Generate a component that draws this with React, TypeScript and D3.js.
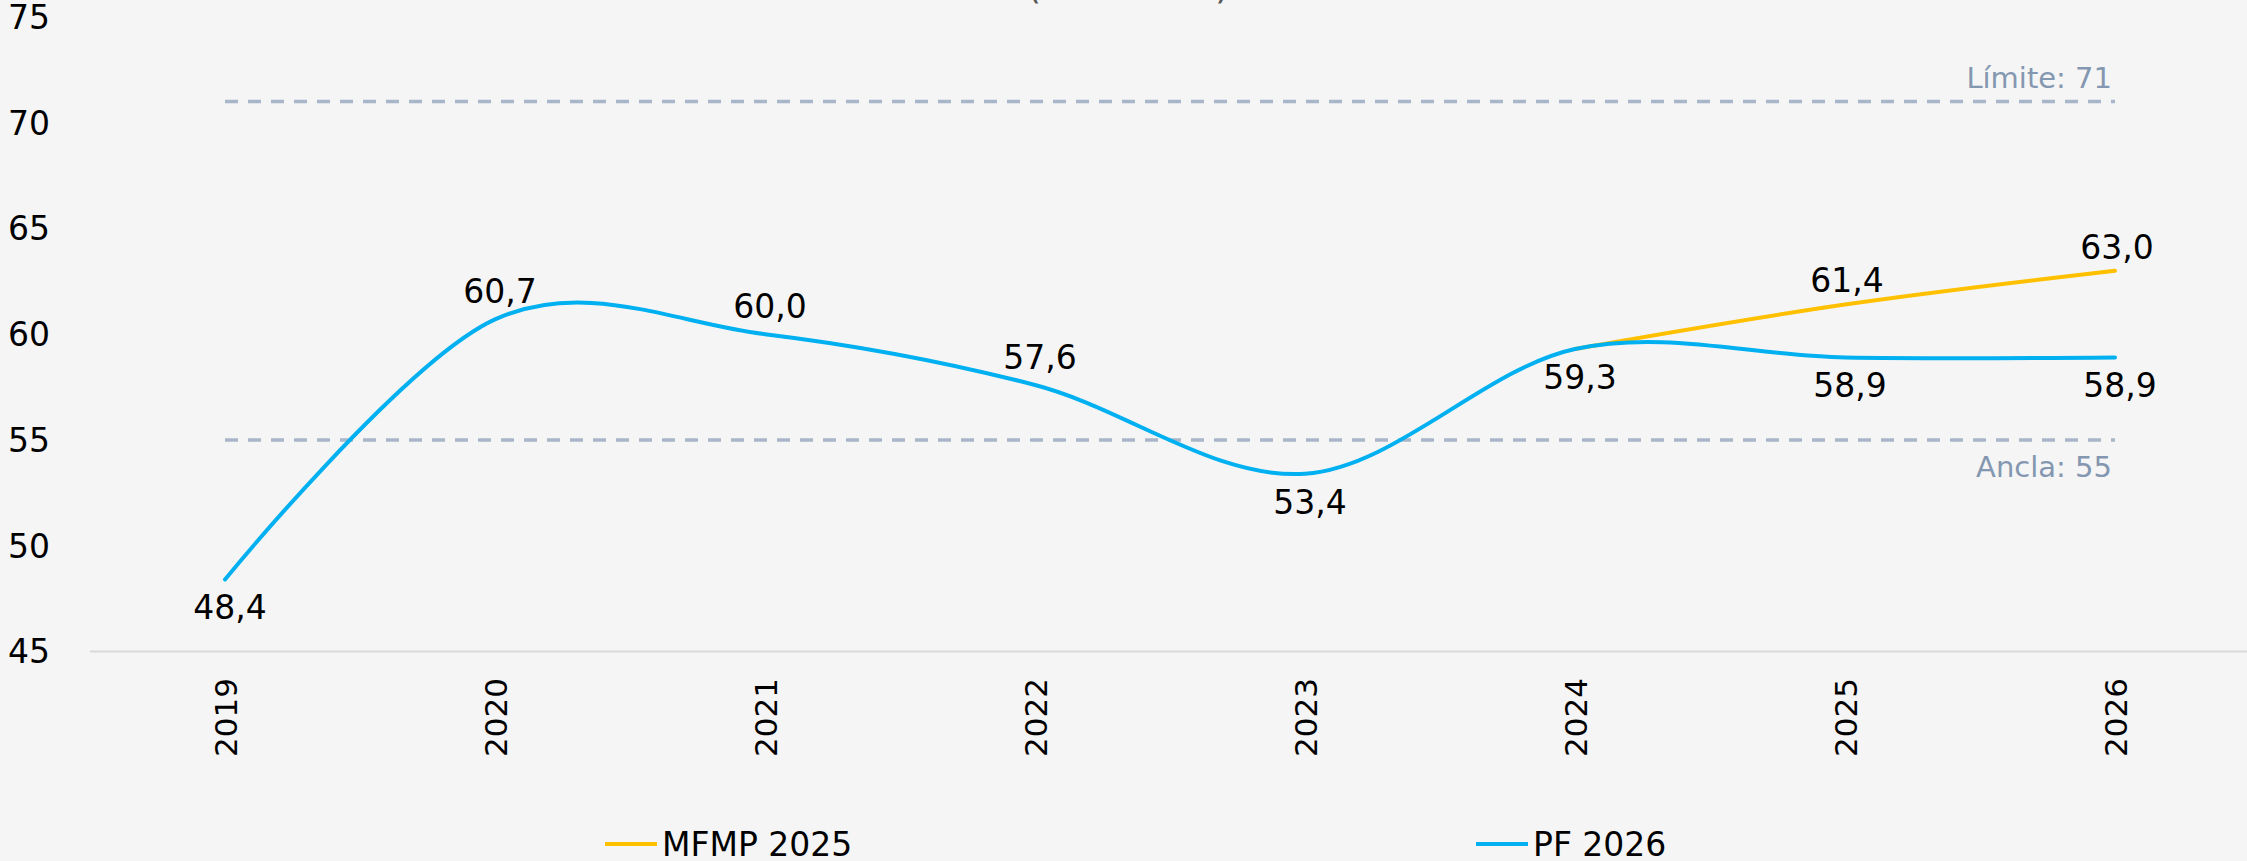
import React from 'react';
import * as d3 from 'd3';

const YEARS = ['2019', '2020', '2021', '2022', '2023', '2024', '2025', '2026'];
const PF_2026 = [48.4, 60.7, 60.0, 57.6, 53.4, 59.3, 58.9, 58.9];
const MFMP_2025: (number | null)[] = [null, null, null, null, null, 59.3, 61.4, 63.0];
const PF_LABEL_SIDE = ['below', 'above', 'above', 'above', 'below', 'below', 'below', 'below'];
const MFMP_LABEL_SIDE = [null, null, null, null, null, null, 'above', 'above'];
const Y_TICKS = [45, 50, 55, 60, 65, 70, 75];
const LIMITE = 71;
const ANCLA = 55;
const SERIES_NAMES = ['MFMP 2025', 'PF 2026'];
const TITLE_UNIT = '(% del PIB)';

const W = 2247;
const H = 861;
const FONT = "'DejaVu Sans', Verdana, sans-serif";
const BLUE = '#00b0f0';
const YELLOW = '#ffc000';
const DASH = '#a9b5c8';
const REF_TEXT = '#8497b0';

const fmt = (v: number) => d3.format('.1f')(v).replace('.', ',');

export default function App() {
  const x = d3.scalePoint<string>().domain(YEARS).range([225, 2115]);
  const y = d3.scaleLinear().domain([45, 75]).range([651.4, 17]);

  const curve = d3.curveCardinal.tension(0);
  const pfLine = d3
    .line<number>()
    .x((_, i) => x(YEARS[i])!)
    .y((d) => y(d))
    .curve(curve);
  const mfmpPts = MFMP_2025.map((v, i) => ({ v, yr: YEARS[i] })).filter((d) => d.v != null) as {
    v: number;
    yr: string;
  }[];
  const mfmpLine = d3
    .line<{ v: number; yr: string }>()
    .x((d) => x(d.yr)!)
    .y((d) => y(d.v))
    .curve(curve);

  const labelOffset = 28;
  const fs = 33;
  const fsX = 31;

  return (
    <div style={{ position: 'absolute', left: 0, top: 0 }}>
      <svg width={W} height={H} style={{ display: 'block' }} fontFamily={FONT}>
        <rect x={0} y={0} width={W} height={H} fill="#f5f5f5" />
        {/* title remnant (cut off at top) */}
        <text x={1128} y={-1} textAnchor="middle" fontSize={37} fill="#595959">
          {TITLE_UNIT}
        </text>

        {/* y axis labels */}
        {Y_TICKS.map((t) => (
          <text key={t} x={50} y={y(t)} dy="0.36em" textAnchor="end" fontSize={fs} fill="#000">
            {t}
          </text>
        ))}

        {/* x axis line */}
        <line x1={90} x2={W} y1={y(45)} y2={y(45)} stroke="#d9d9d9" strokeWidth={2} />

        {/* x axis labels */}
        {YEARS.map((yr) => (
          <text
            key={yr}
            transform={`translate(${x(yr)! + 1},${678}) rotate(-90)`}
            dy="0.36em"
            textAnchor="end"
            fontSize={fsX}
            fill="#000"
          >
            {yr}
          </text>
        ))}

        {/* reference lines */}
        {[LIMITE, ANCLA].map((v) => (
          <line
            key={v}
            x1={x(YEARS[0])!}
            x2={x(YEARS[YEARS.length - 1])!}
            y1={y(v)}
            y2={y(v)}
            stroke={DASH}
            strokeWidth={3.5}
            strokeDasharray="13 10"
          />
        ))}
        <text x={2112} y={y(LIMITE) - 14} textAnchor="end" fontSize={29} fill={REF_TEXT}>
          {`Límite: ${LIMITE}`}
        </text>
        <text x={2112} y={y(ANCLA) + 37} textAnchor="end" fontSize={29} fill={REF_TEXT}>
          {`Ancla: ${ANCLA}`}
        </text>

        {/* series */}
        <path d={mfmpLine(mfmpPts) || ''} fill="none" stroke={YELLOW} strokeWidth={4} strokeLinecap="round" />
        <path d={pfLine(PF_2026) || ''} fill="none" stroke={BLUE} strokeWidth={4} strokeLinecap="round" />

        {/* data labels */}
        {PF_2026.map((v, i) => (
          <text
            key={'pf' + i}
            x={x(YEARS[i])! + 5}
            y={y(v) + (PF_LABEL_SIDE[i] === 'above' ? -labelOffset : labelOffset)}
            dy="0.36em"
            textAnchor="middle"
            fontSize={fs}
            fill="#000"
          >
            {fmt(v)}
          </text>
        ))}
        {MFMP_2025.map((v, i) =>
          v != null && MFMP_LABEL_SIDE[i] ? (
            <text
              key={'mf' + i}
              x={x(YEARS[i])! + 2}
              y={y(v) + (MFMP_LABEL_SIDE[i] === 'above' ? -labelOffset + 4 : labelOffset)}
              dy="0.36em"
              textAnchor="middle"
              fontSize={fs}
              fill="#000"
            >
              {fmt(v)}
            </text>
          ) : null
        )}

        {/* legend */}
        {SERIES_NAMES.map((name, i) => {
          const lx = i === 0 ? 605 : 1476;
          const color = i === 0 ? YELLOW : BLUE;
          return (
            <g key={name}>
              <line x1={lx} x2={lx + 52} y1={844} y2={844} stroke={color} strokeWidth={4} />
              <text x={lx + 57} y={844} dy="0.36em" fontSize={fs} fill="#000">
                {name}
              </text>
            </g>
          );
        })}
      </svg>
    </div>
  );
}
